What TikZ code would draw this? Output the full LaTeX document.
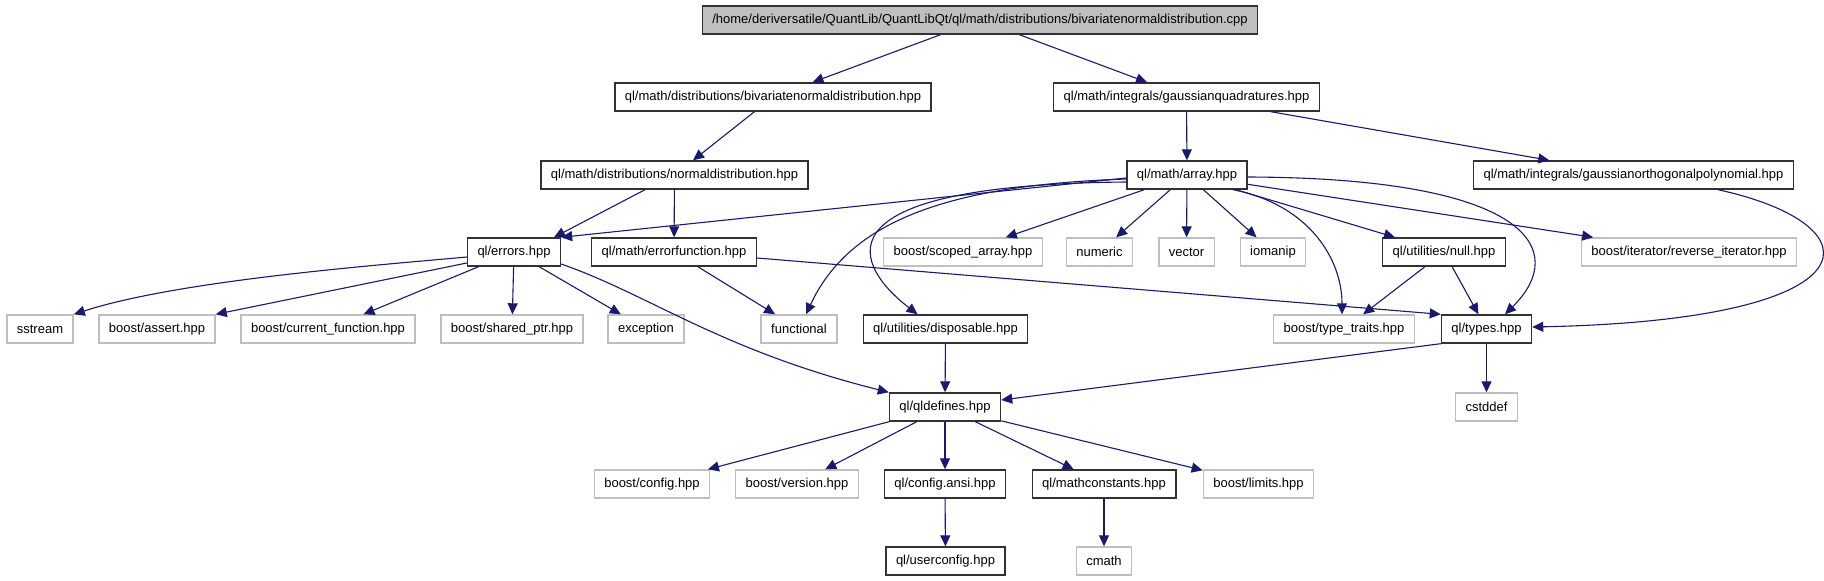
\documentclass[tikz,border=0pt]{standalone}
\usepackage{fontspec}
\setmainfont{Liberation Sans}
\usetikzlibrary{arrows.meta}

\definecolor{edgeblue}{RGB}{25,25,112}
\definecolor{extgray}{RGB}{191,191,191}
\definecolor{docgray}{RGB}{50,50,50}

\begin{document}
\begin{tikzpicture}[
    x=1pt, y=-1pt,
    >={Triangle[length=11pt,width=10pt]},
    filebox/.style={
        rectangle,
        draw=#1,
        line width=1.4pt,
        minimum height=28pt,
        inner xsep=10pt,
        inner ysep=0pt,
        font=\fontsize{13}{15}\selectfont
    },
    doc/.style={filebox=docgray, fill=white},
    sys/.style={filebox=extgray, fill=white},
    srcfile/.style={filebox=docgray, fill=extgray},
    dep/.style={->, draw=edgeblue, line width=1.1pt}
]

\useasboundingbox (0,0) rectangle (1824,581);
\fill[white] (0,0) rectangle (1824,581);

% source file and first includes
\node[srcfile] (root) at (980,20) {/home/deriversatile/QuantLib/QuantLibQt/ql/math/distributions/bivariatenormaldistribution.cpp};

\node[doc] (bivar) at (773,97) {ql/math/distributions/bivariatenormaldistribution.hpp};
\node[doc] (quad)  at (1186.5,97) {ql/math/integrals/gaussianquadratures.hpp};

\node[doc] (normal) at (674.5,175) {ql/math/distributions/normaldistribution.hpp};
\node[doc] (array)  at (1187,175) {ql/math/array.hpp};
\node[doc] (ortho)  at (1633.5,175) {ql/math/integrals/gaussianorthogonalpolynomial.hpp};

% row of errors.hpp / array includes
\node[doc] (errors)  at (514,252) {ql/errors.hpp};
\node[doc] (errfunc) at (674,252) {ql/math/errorfunction.hpp};
\node[sys] (scoped)  at (963,252) {boost/scoped\_array.hpp};
\node[sys] (numeric) at (1099.5,252) {numeric};
\node[sys] (vector)  at (1186.5,252) {vector};
\node[sys] (iomanip) at (1273,252) {iomanip};
\node[doc] (null)    at (1444,252) {ql/utilities/null.hpp};
\node[sys] (reviter) at (1689,252) {boost/iterator/reverse\_iterator.hpp};

\node[sys] (sstream)    at (40,329) {sstream};
\node[sys] (assert)     at (157,329) {boost/assert.hpp};
\node[sys] (curfunc)    at (328,329) {boost/current\_function.hpp};
\node[sys] (sharedptr)  at (512,329) {boost/shared\_ptr.hpp};
\node[sys] (exception)  at (646,329) {exception};
\node[sys] (functional) at (799,329) {functional};
\node[doc] (disposable) at (945.5,329) {ql/utilities/disposable.hpp};
\node[sys] (typetraits) at (1344,329) {boost/type\_traits.hpp};
\node[doc] (types)      at (1486.5,329) {ql/types.hpp};

\node[doc] (qldefines) at (945,407) {ql/qldefines.hpp};
\node[sys] (cstddef)   at (1486.5,407) {cstddef};

\node[sys] (config)     at (652,484) {boost/config.hpp};
\node[sys] (version)    at (797,484) {boost/version.hpp};
\node[doc] (configansi) at (945,484) {ql/config.ansi.hpp};
\node[doc] (mathconst)  at (1104,484) {ql/mathconstants.hpp};
\node[sys] (limits)     at (1258.5,484) {boost/limits.hpp};

\node[doc] (userconfig) at (945.5,561) {ql/userconfig.hpp};
\node[sys] (cmath)      at (1104,561) {cmath};

% top levels
\draw[dep] (root) -- (bivar);
\draw[dep] (root) -- (quad);
\draw[dep] (bivar) -- (normal);
\draw[dep] (quad) -- (array);
\draw[dep] (quad) -- (ortho);
\draw[dep] ([xshift=-29.5]normal.south) -- ([xshift=40]errors.north);
\draw[dep] (normal) -- (errfunc);

% ql/math/array.hpp
\draw[dep] ([yshift=-3]array.west) -- (errors.north east);
\draw[dep] ([yshift=-4]array.west) .. controls (950,185) and (850,220) .. ([xshift=7]functional.north);
\draw[dep] ([yshift=-7]array.west) .. controls (800,185) and (860,270) .. ([xshift=-28]disposable.north);
\draw[dep] (array) -- (scoped);
\draw[dep] (array) -- (numeric);
\draw[dep] (array) -- (vector);
\draw[dep] (array) -- (iomanip);
\draw[dep] (array) -- (null);
\draw[dep] (array) -- (reviter);
\draw[dep] ([xshift=46]array.south) .. controls (1310,205) and (1342,260) .. ([xshift=-2]typetraits.north);
\draw[dep] ([yshift=-2]array.east) .. controls (1530,178) and (1570,250) .. ([xshift=18.5]types.north);
\draw[dep] ([xshift=84.5]ortho.south) .. controls (1880,225) and (1880,320) .. ([yshift=2]types.east);

% ql/errors.hpp
\draw[dep] ([yshift=-5]errors.west) .. controls (380,265) and (180,280) .. (sstream.north east);
\draw[dep] ([yshift=-11]errors.west) -- (assert.north east);
\draw[dep] (errors) -- (curfunc);
\draw[dep] (errors) -- (sharedptr);
\draw[dep] (errors) -- (exception);
\draw[dep] ([yshift=-12]errors.east) .. controls (650,295) and (720,350) .. (qldefines.north west);

% ql/math/errorfunction.hpp
\draw[dep] (errfunc) -- (functional);
\draw[dep] ([yshift=-6]errfunc.east) -- (types.north west);

% ql/utilities/null.hpp, disposable.hpp, types.hpp
\draw[dep] (null) -- (typetraits);
\draw[dep] (null) -- (types);
\draw[dep] (disposable) -- (qldefines);
\draw[dep] (types.south west) -- ([yshift=7]qldefines.east);
\draw[dep] (types) -- (cstddef);

% ql/qldefines.hpp
\draw[dep] (qldefines) -- (config);
\draw[dep] (qldefines) -- (version);
\draw[dep] (qldefines) -- (configansi);
\draw[dep] (qldefines) -- (mathconst);
\draw[dep] (qldefines) -- (limits);
\draw[dep] (configansi) -- (userconfig);
\draw[dep] (mathconst) -- (cmath);

\end{tikzpicture}
\end{document}
